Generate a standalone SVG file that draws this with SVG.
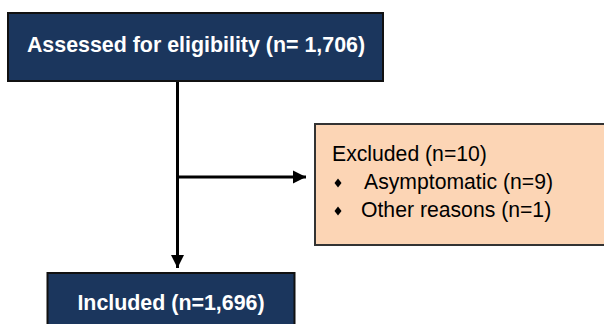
<svg xmlns="http://www.w3.org/2000/svg" width="604" height="324" viewBox="0 0 604 324">
<style>
.navy{fill:#1b365d;stroke:#111;stroke-width:2}
.peach{fill:#fcd5b5;stroke:#333;stroke-width:2}
.bt{font-family:"Liberation Sans",Arial,sans-serif;font-weight:bold;font-size:21.4px;fill:#fff;text-anchor:middle}
.rt{font-family:"Liberation Sans",Arial,sans-serif;font-size:21.2px;fill:#000}
.ln{stroke:#000;stroke-width:3;fill:none}
</style>
<defs>
<marker id="ah" viewBox="0 0 10 10" refX="10" refY="5" markerWidth="4.4" markerHeight="4.4" markerUnits="strokeWidth" orient="auto">
<path d="M0,0 L10,5 L0,10 z" fill="#000"/>
</marker>
</defs>
<rect width="604" height="324" fill="#fff"/>
<g id="connectors">
<path class="ln" d="M177.5,81 V268" marker-end="url(#ah)"/>
<path class="ln" d="M177.5,177 H306" marker-end="url(#ah)"/>
</g>
<g id="assessed">
<rect class="navy" x="8" y="13" width="375" height="68"/>
<text class="bt" x="196" y="52">Assessed for eligibility (n= 1,706)</text>
</g>
<g id="excluded">
<rect class="peach" x="315" y="124" width="300" height="121"/>
<text class="rt" x="332" y="161">Excluded (n=10)</text>
<polygon points="338,178.5 341.5,183 338,187.5 334.5,183" fill="#000"/>
<text class="rt" x="364" y="189">Asymptomatic (n=9)</text>
<polygon points="338,206.5 341.5,211 338,215.5 334.5,211" fill="#000"/>
<text class="rt" x="361" y="217">Other reasons (n=1)</text>
</g>
<g id="included">
<rect class="navy" x="47.5" y="273" width="247" height="60"/>
<text class="bt" x="171" y="310">Included (n=1,696)</text>
</g>
</svg>
